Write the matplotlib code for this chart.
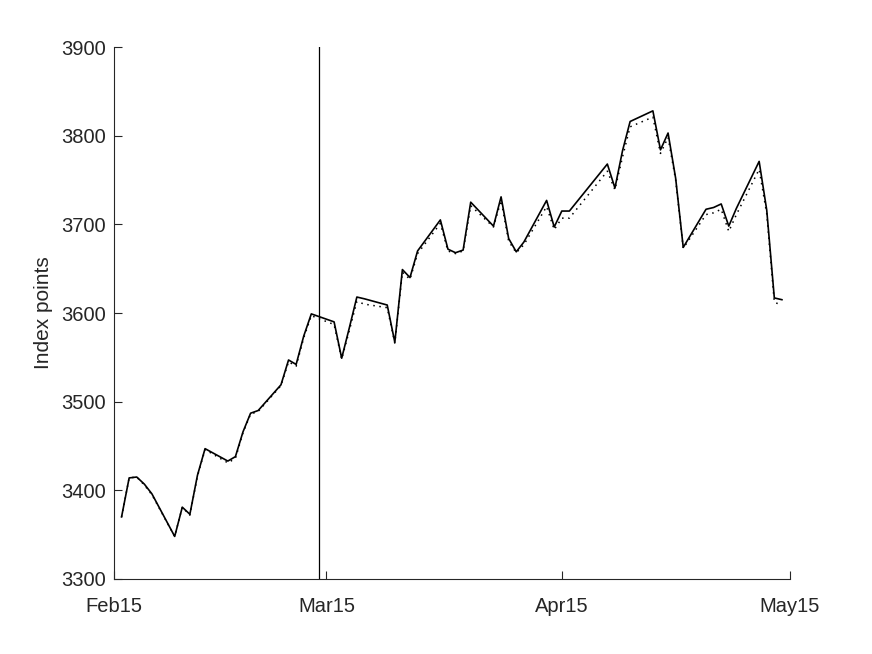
import matplotlib
matplotlib.use("Agg")
import matplotlib.pyplot as plt
import matplotlib.dates as mdates
import numpy as np
import pandas as pd

dates = [
    "2015-02-02", "2015-02-03", "2015-02-04", "2015-02-05", "2015-02-06",
    "2015-02-09", "2015-02-10", "2015-02-11", "2015-02-12", "2015-02-13",
    "2015-02-16", "2015-02-17", "2015-02-18", "2015-02-19", "2015-02-20",
    "2015-02-23", "2015-02-24", "2015-02-25", "2015-02-26", "2015-02-27",
    "2015-03-02", "2015-03-03", "2015-03-04", "2015-03-05", "2015-03-06",
    "2015-03-09", "2015-03-10", "2015-03-11", "2015-03-12", "2015-03-13",
    "2015-03-16", "2015-03-17", "2015-03-18", "2015-03-19", "2015-03-20",
    "2015-03-23", "2015-03-24", "2015-03-25", "2015-03-26", "2015-03-27",
    "2015-03-30", "2015-03-31", "2015-04-01", "2015-04-02",
    "2015-04-07", "2015-04-08", "2015-04-09", "2015-04-10",
    "2015-04-13", "2015-04-14", "2015-04-15", "2015-04-16", "2015-04-17",
    "2015-04-20", "2015-04-21", "2015-04-22", "2015-04-23", "2015-04-24",
    "2015-04-27", "2015-04-28", "2015-04-29", "2015-04-30",
]

index_close = [
    3370, 3414, 3415, 3407, 3396,
    3348, 3381, 3373, 3417, 3447,
    3433, 3438, 3466, 3487, 3490,
    3519, 3547, 3542, 3574, 3599,
    3590, 3549, 3583, 3618, 3616,
    3609, 3567, 3649, 3640, 3670,
    3705, 3672, 3668, 3671, 3725,
    3698, 3731, 3684, 3669, 3680,
    3727, 3697, 3715, 3715,
    3768, 3741, 3783, 3816,
    3828, 3784, 3803, 3752, 3674,
    3717, 3719, 3723, 3698, 3718,
    3771, 3716, 3617, 3615,
]

index_fitted = [
    3370, 3414, 3415, 3406, 3395,
    3348, 3381, 3372, 3416, 3446,
    3431, 3436, 3465, 3486, 3489,
    3518, 3545, 3540, 3572, 3597,
    3587, 3548, 3580, 3613, 3610,
    3606, 3566, 3646, 3638, 3667,
    3701, 3670, 3667, 3670, 3721,
    3697, 3727, 3681, 3668, 3677,
    3720, 3694, 3707, 3707,
    3760, 3739, 3776, 3810,
    3821, 3780, 3798, 3750, 3673,
    3711, 3713, 3717, 3692, 3711,
    3762, 3712, 3612, 3609,
]

event_date = "2015-02-28"
x_start, x_end = "2015-02-01", "2015-05-01"
tick_dates = ["2015-02-01", "2015-03-01", "2015-04-01", "2015-05-01"]
y_ticks = [3300, 3400, 3500, 3600, 3700, 3800, 3900]

plt.rcParams['font.family'] = ['Liberation Sans', 'DejaVu Sans']

x = pd.to_datetime(dates)

fig = plt.figure(figsize=(8.72, 6.54), dpi=100)
ax = fig.add_axes([0.1307, 0.1147, 0.7747, 0.8134])

ax.plot(x, index_close, color='black', linewidth=1.2, linestyle='-')
ax.plot(x, index_fitted, color='black', linewidth=1.1, linestyle=(0, (1, 3)))
ax.axvline(pd.Timestamp(event_date), color='black', linewidth=0.9)

ax.set_xlim(pd.Timestamp(x_start), pd.Timestamp(x_end))
ax.set_ylim(3300, 3900)
ax.set_xticks(pd.to_datetime(tick_dates))
ax.xaxis.set_major_formatter(mdates.DateFormatter('%b%y'))
ax.set_yticks(y_ticks)

for s in ['top', 'right']:
    ax.spines[s].set_visible(False)
for s in ['left', 'bottom']:
    ax.spines[s].set_linewidth(0.8)
    ax.spines[s].set_color('#262626')

ax.tick_params(axis='both', direction='in', length=6, width=0.8, labelsize=14.5, colors='#262626')
ax.tick_params(axis='x', pad=13)
ax.tick_params(axis='y', pad=6)
ax.set_ylabel('Index points', fontsize=15, color='#262626', labelpad=6)

fig.savefig('out.png', dpi=100)
